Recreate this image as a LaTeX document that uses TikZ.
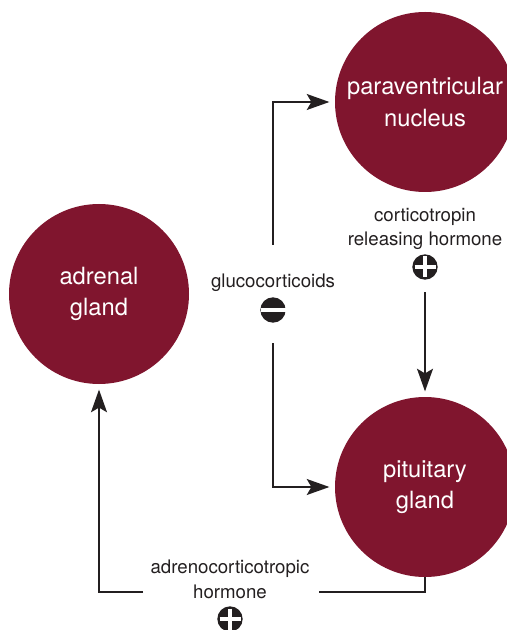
\documentclass[tikz,border=0pt]{standalone}
\usepackage{fontspec}
\setmainfont{TeX Gyre Heros}
\usetikzlibrary{arrows.meta}
\definecolor{gland}{RGB}{128,21,46}
\definecolor{ink}{RGB}{35,31,32}
\begin{document}
\begin{tikzpicture}[x=0.75pt,y=-0.75pt,
  organ/.style={circle, fill=gland, minimum size=135pt, inner sep=0pt, text=white, align=center, font=\fontsize{17.8}{23.5}\selectfont},
  lbl/.style={text=ink, align=center, font=\fontsize{14}{18.5}\selectfont, inner sep=0pt},
  sign/.style={circle, fill=ink, minimum size=19pt, inner sep=0pt},
  bar/.style={white, line width=2.3pt},
  conn/.style={draw=ink, line width=1.1pt},
  arr/.style={conn, -{Stealth[length=17pt,width=12pt,inset=3.5pt]}, shorten >=4pt},
]
\useasboundingbox (0,0) rectangle (506,630);
% organs
\node[organ] (pvn) at (425,102) {paraventricular\\nucleus};
\node[organ] (adr) at (99,294) {adrenal\\gland};
\node[organ] (pit) at (425,487) {pituitary\\gland};
% labels
\node[lbl] (glu) at (273,283) {glucocorticoids};
\node[lbl] (crh) at (425,229) {corticotropin\\releasing hormone};
\node[lbl] (acth) at (230,579) {adrenocorticotropic\\hormone};
% signs
\node[sign] (minus) at (273,310) {};
\draw[bar] (minus.center) ++(-12.5,0) -- ++(25,0);
\node[sign] (plusa) at (425,267) {};
\draw[bar] (plusa.center) ++(-10.5,0) -- ++(21,0);
\draw[bar] (plusa.center) ++(0,-10.5) -- ++(0,21);
\node[sign] (plusb) at (230,619) {};
\draw[bar] (plusb.center) ++(-10.5,0) -- ++(21,0);
\draw[bar] (plusb.center) ++(0,-10.5) -- ++(0,21);
% connector end points
\coordinate (gtop) at (273,245);
\coordinate (gbot) at (273,343);
\coordinate (ctop) at (425,292);
\coordinate (ar) at (319,592);
\coordinate (al) at (143,592);
% connectors
\draw[arr] (gtop) |- (pvn);
\draw[arr] (gbot) |- (pit);
\draw[arr] (ctop) -- (pit);
\draw[conn] (pit.south) |- (ar);
\draw[arr] (al) -| (adr);
\end{tikzpicture}
\end{document}
